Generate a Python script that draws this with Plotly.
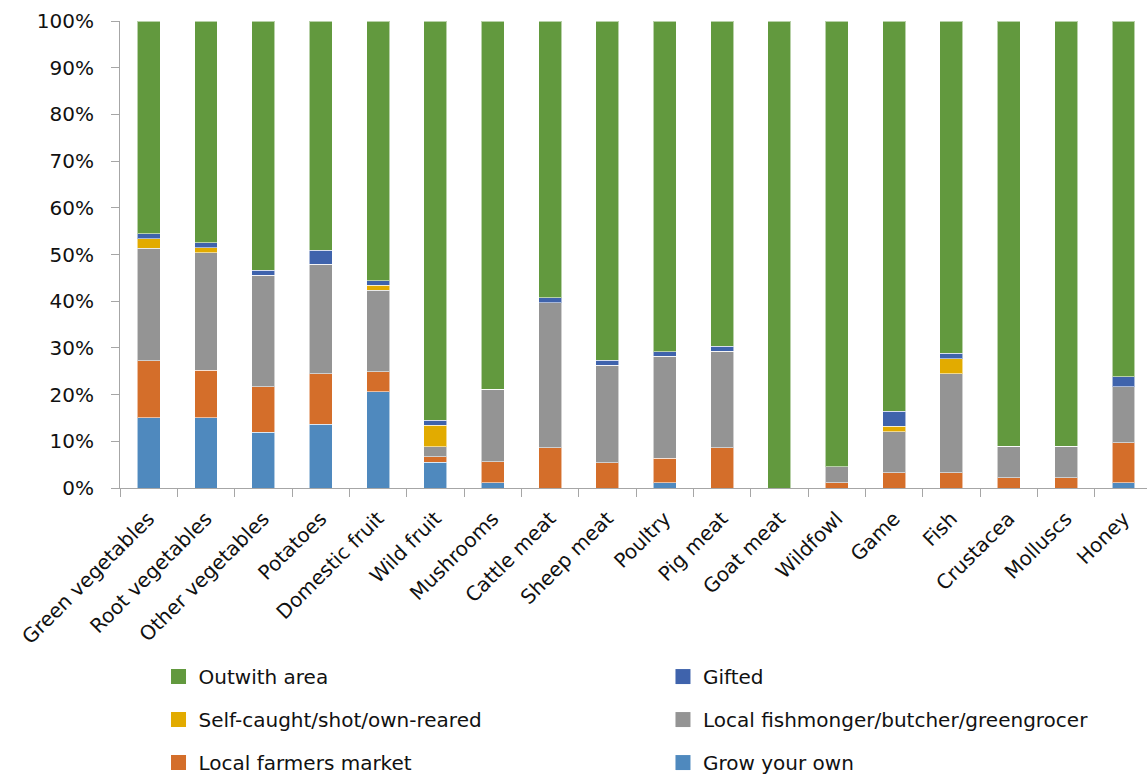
import plotly.graph_objects as go

categories = [
    "Green vegetables", "Root vegetables", "Other vegetables", "Potatoes",
    "Domestic fruit", "Wild fruit", "Mushrooms", "Cattle meat", "Sheep meat",
    "Poultry", "Pig meat", "Goat meat", "Wildfowl", "Game", "Fish",
    "Crustacea", "Molluscs", "Honey",
]

# Share of each food source, in percent (stacked bottom to top)
grow_your_own = [15.0, 15.0, 11.9, 13.7, 20.6, 5.5, 1.1, 0, 0, 1.1, 0, 0, 0, 0, 0, 0, 0, 1.1]
farmers_market = [12.2, 10.2, 9.8, 10.8, 4.3, 1.2, 4.5, 8.6, 5.4, 5.3, 8.6, 0, 1.1, 3.3, 3.3, 2.2, 2.2, 8.6]
local_shops = [24.1, 25.2, 23.9, 23.4, 17.4, 2.1, 15.6, 31.1, 20.9, 21.8, 20.7, 0, 3.4, 8.7, 21.2, 6.7, 6.7, 12.0]
self_caught = [2.1, 1.0, 0, 0, 1.1, 4.6, 0, 0, 0, 0, 0, 0, 0, 1.2, 3.2, 0, 0, 0]
gifted = [1.0, 1.1, 1.0, 3.0, 1.0, 1.1, 0, 1.0, 1.1, 1.0, 1.1, 0, 0, 3.2, 1.2, 0, 0, 2.1]
outwith_area = [45.6, 47.5, 53.4, 49.1, 55.6, 85.5, 78.8, 59.3, 72.6, 70.8, 69.6, 100.0, 95.5, 83.6, 71.1, 91.1, 91.1, 76.2]

series = [
    # name, values, colour, legend column, row in that column
    ("Grow your own", grow_your_own, "#4F89BE", "legend2", 3),
    ("Local farmers market", farmers_market, "#D46E2A", "legend", 3),
    ("Local fishmonger/butcher/greengrocer", local_shops, "#949494", "legend2", 2),
    ("Self-caught/shot/own-reared", self_caught, "#E2AB00", "legend", 2),
    ("Gifted", gifted, "#3F63AC", "legend2", 1),
    ("Outwith area", outwith_area, "#62993E", "legend", 1),
]

FONT = "DejaVu Sans"
TEXT = "#111111"
AXIS = "#A6A6A6"

fig = go.Figure()
for name, vals, colour, leg, rank in series:
    fig.add_trace(go.Bar(
        x=categories,
        y=[v / 100 for v in vals],
        name=name,
        marker=dict(color=colour, line=dict(color="rgba(255,255,255,0.55)", width=1)),
        width=0.4,
        showlegend=False,
    ))
    # square legend swatch for the series
    fig.add_trace(go.Scatter(
        x=[None], y=[None],
        mode="markers",
        name=name,
        marker=dict(symbol="square", size=15, color=colour, line=dict(width=0)),
        legend=leg,
        legendrank=rank,
        legendgroup=name,
        hoverinfo="skip",
    ))

legend_common = dict(
    orientation="v",
    yanchor="top",
    xanchor="left",
    font=dict(family=FONT, size=20, color=TEXT),
    bgcolor="rgba(0,0,0,0)",
    itemsizing="trace",
    tracegroupgap=14,
    traceorder="grouped",
)

fig.update_layout(
    width=1147,
    height=776,
    margin=dict(l=120, r=0, t=21, b=288, pad=0, autoexpand=False),
    paper_bgcolor="white",
    plot_bgcolor="white",
    barmode="stack",
    font=dict(family=FONT, size=20, color=TEXT),
    legend=dict(x=0.0375, y=-0.362, **legend_common),
    legend2=dict(x=0.5287, y=-0.362, **legend_common),
    xaxis=dict(
        range=[-0.5, 17.41],
        showline=True,
        linecolor=AXIS,
        linewidth=1,
        ticks="outside",
        tickson="boundaries",
        ticklen=8,
        tickcolor=AXIS,
        tickangle=-45,
        ticklabelstandoff=10,
        tickfont=dict(family=FONT, size=20, color=TEXT),
        showgrid=False,
        zeroline=False,
        automargin=False,
    ),
    yaxis=dict(
        range=[0, 1],
        tickvals=[i / 10 for i in range(11)],
        tickformat=".0%",
        showline=True,
        linecolor=AXIS,
        linewidth=1,
        ticks="outside",
        ticklen=8,
        tickcolor=AXIS,
        ticklabelstandoff=13,
        tickfont=dict(family=FONT, size=20, color=TEXT),
        showgrid=False,
        zeroline=False,
        automargin=False,
    ),
)

fig.write_html("out.html")
